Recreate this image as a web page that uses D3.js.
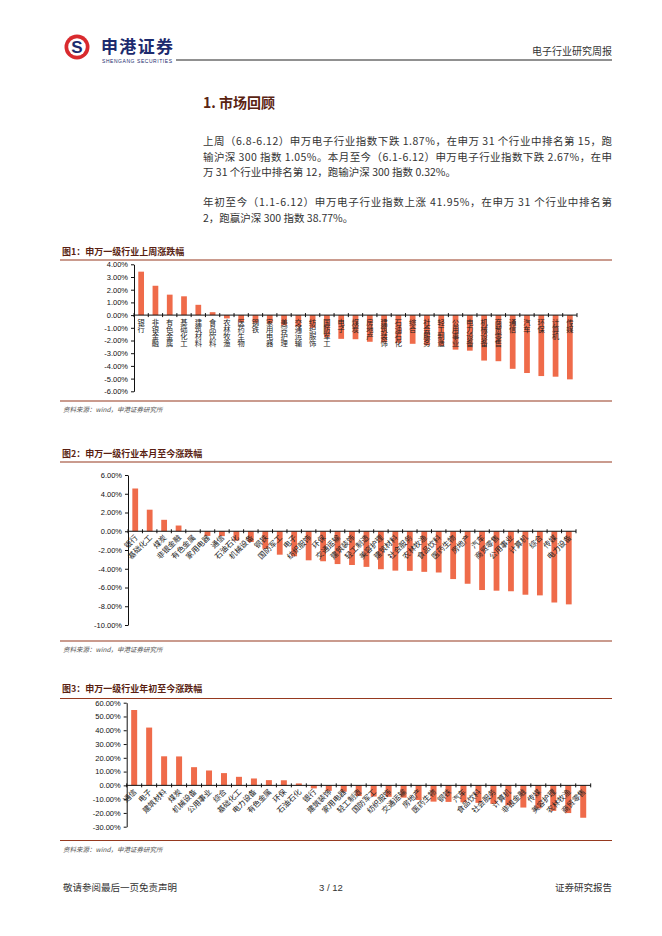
<!DOCTYPE html>
<html>
<head>
<meta charset="utf-8">
<script src="https://d3js.org/d3.v7.min.js"></script>
<style>
  body { margin: 0; background: #fff; }
  svg { display: block; }
</style>
</head>
<body>
<div id="page"></div>
<script>
// ---- data (percent change) ----
const weekNames = ["银行","非银金融","有色金属","基础化工","建筑材料","食品饮料","农林牧渔","医药生物","钢铁","家用电器",
  "美容护理","交通运输","纺织服饰","国防军工","电子","煤炭","房地产","建筑装饰","石油石化","综合",
  "社会服务","轻工制造","公用事业","电力设备","机械设备","商贸零售","通信","汽车","环保","计算机","传媒"];
const weekValues = [3.42,2.31,1.61,1.48,0.81,0.23,-0.26,-0.54,-0.60,-0.65,
  -0.80,-0.90,-1.00,-1.74,-1.87,-1.90,-2.10,-2.15,-2.18,-2.26,
  -2.38,-2.42,-2.72,-2.80,-3.58,-3.63,-4.23,-4.56,-4.80,-4.85,-5.06];
const weekTicks = [4,3,2,1,0,-1,-2,-3,-4,-5,-6];

const monthNames = ["银行","基础化工","煤炭","非银金融","有色金属","家用电器","通信","石油石化","机械设备","钢铁",
  "国防军工","电子","纺织服饰","环保","交通运输","建筑装饰","轻工制造","美容护理","建筑材料","社会服务",
  "农林牧渔","食品饮料","医药生物","房地产","汽车","商贸零售","公用事业","计算机","综合","传媒","电力设备"];
const monthValues = [4.56,2.30,1.22,0.61,0.03,-0.50,-0.52,-1.00,-1.15,-1.87,
  -2.50,-2.67,-3.10,-3.20,-3.50,-3.60,-3.80,-4.05,-4.20,-4.22,
  -4.33,-4.40,-5.10,-5.60,-6.27,-6.34,-6.40,-6.77,-6.84,-7.60,-7.80];
const monthTicks = [6,4,2,0,-2,-4,-6,-8,-10];

const ytdNames = ["通信","电子","建筑材料","煤炭","机械设备","公用事业","综合","基础化工","电力设备","有色金属",
  "环保","石油石化","银行","建筑装饰","家用电器","轻工制造","国防军工","纺织服饰","交通运输","房地产",
  "医药生物","钢铁","汽车","食品饮料","社会服务","计算机","非银金融","传媒","美容护理","农林牧渔","商贸零售"];
const ytdValues = [54.7,41.95,21.1,21.0,13.2,10.8,8.9,6.2,5.0,3.8,
  3.7,1.4,-2.2,-4.0,-4.6,-7.7,-8.1,-8.3,-8.9,-10.6,
  -11.8,-12.0,-12.3,-12.7,-13.4,-14.4,-16.1,-16.8,-18.5,-20.1,-23.5];
const ytdTicks = [60,50,40,30,20,10,0,-10,-20,-30];

const para1 = [
  "上周（6.8-6.12）申万电子行业指数下跌 1.87%，在申万 31 个行业中排名第 15，跑",
  "输沪深 300 指数 1.05%。本月至今（6.1-6.12）申万电子行业指数下跌 2.67%，在申",
  "万 31 个行业中排名第 12，跑输沪深 300 指数 0.32%。"
];
const para2 = [
  "年初至今（1.1-6.12）申万电子行业指数上涨 41.95%，在申万 31 个行业中排名第",
  "2，跑赢沪深 300 指数 38.77%。"
];

const W = 662, H = 936;
const CJK = "'Noto Sans CJK SC', sans-serif";
const LAT = "'Liberation Sans', Arial, sans-serif";
const barColor = "#ef6b4a";
const ruleColor = "#96391f";

const svg = d3.select("#page").append("svg")
  .attr("width", W).attr("height", H);
svg.append("rect").attr("width", W).attr("height", H).attr("fill", "#fff");

// ---- header ----
svg.append("circle").attr("cx", 77).attr("cy", 47).attr("r", 12.5).attr("fill", "#d92a2e");
svg.append("circle").attr("cx", 77).attr("cy", 47).attr("r", 8.8).attr("fill", "#fff");
svg.append("text").attr("x", 77).attr("y", 53).attr("text-anchor", "middle")
  .attr("font-family", LAT).attr("font-weight", "bold").attr("font-size", 17)
  .attr("fill", "#1d2b6e").text("S");
svg.append("text").attr("x", 101).attr("y", 52.5)
  .attr("font-family", CJK).attr("font-weight", "bold").attr("font-size", 17)
  .attr("fill", "#1d2b6e").attr("textLength", 72).text("申港证券");
svg.append("text").attr("x", 102).attr("y", 63)
  .attr("font-family", LAT).attr("font-size", 5)
  .attr("fill", "#1d2b6e").attr("textLength", 70).text("SHENGANG SECURITIES");
svg.append("line").attr("x1", 176).attr("x2", 612).attr("y1", 60).attr("y2", 60)
  .attr("stroke", "#222").attr("stroke-width", 1);
svg.append("text").attr("x", 612).attr("y", 55).attr("text-anchor", "end")
  .attr("font-family", CJK).attr("font-size", 10).attr("fill", "#333").text("电子行业研究周报");

// ---- section text ----
svg.append("text").attr("x", 203).attr("y", 108)
  .attr("font-family", CJK).attr("font-weight", "bold").attr("font-size", 14)
  .attr("fill", "#5a2412").text("1. 市场回顾");

function paragraph(lines, y0) {
  lines.forEach(function(t, i) {
    const el = svg.append("text").attr("x", 203).attr("y", y0 + i * 15.5)
      .attr("font-family", CJK).attr("font-size", 10.5).attr("fill", "#333").text(t);
    if (i < lines.length - 1) el.attr("textLength", 409).attr("lengthAdjust", "spacing");
  });
}
paragraph(para1, 145);
paragraph(para2, 206);

// ---- charts ----
function drawChart(cfg) {
  const g = svg.append("g");

  // title and frame rules
  g.append("text").attr("x", 62).attr("y", cfg.titleY)
    .attr("font-family", CJK).attr("font-weight", "bold").attr("font-size", 9)
    .attr("fill", "#5a1f12").text(cfg.title);
  g.append("line").attr("x1", 60).attr("x2", 612).attr("y1", cfg.ruleTop).attr("y2", cfg.ruleTop)
    .attr("stroke", ruleColor).attr("stroke-width", 1.2);
  g.append("line").attr("x1", 60).attr("x2", 612).attr("y1", cfg.ruleBottom).attr("y2", cfg.ruleBottom)
    .attr("stroke", ruleColor).attr("stroke-width", 1.2);
  g.append("text").attr("x", 63).attr("y", cfg.ruleBottom + 11)
    .attr("font-family", CJK).attr("font-style", "italic").attr("font-size", 6.5)
    .attr("fill", "#555").text("资料来源：wind，申港证券研究所");

  const x = d3.scaleBand().domain(cfg.names).range([cfg.x0, cfg.x1])
    .paddingInner(0.6).paddingOuter(0.3);
  const y = d3.scaleLinear().domain([d3.min(cfg.ticks), d3.max(cfg.ticks)])
    .range([cfg.yBottom, cfg.yTop]);

  const data = cfg.names.map(function(n, i) { return { name: n, value: cfg.values[i] }; });

  g.selectAll("rect.bar").data(data).enter().append("rect")
    .attr("class", "bar")
    .attr("x", function(d) { return x(d.name); })
    .attr("width", x.bandwidth())
    .attr("y", function(d) { return y(Math.max(0, d.value)); })
    .attr("height", function(d) { return Math.abs(y(d.value) - y(0)); })
    .attr("fill", barColor);

  // y axis
  g.append("g").attr("transform", "translate(" + cfg.x0 + ",0)")
    .call(d3.axisLeft(y).tickValues(cfg.ticks)
      .tickFormat(function(d) { return d.toFixed(2) + "%"; })
      .tickSize(3).tickSizeOuter(0).tickPadding(3))
    .call(function(a) {
      a.selectAll("text").attr("font-family", LAT).attr("font-size", 7.5).attr("fill", "#111");
      a.selectAll("line,path").attr("stroke", "#111");
    });

  // x axis line with ticks between categories
  const y0 = y(0);
  const step = x.step();
  g.append("line").attr("x1", cfg.x0).attr("x2", cfg.x1).attr("y1", y0).attr("y2", y0)
    .attr("stroke", "#111").attr("stroke-width", 1);
  g.selectAll("line.xt").data(d3.range(cfg.names.length + 1)).enter().append("line")
    .attr("class", "xt")
    .attr("x1", function(i) { return cfg.x0 + i * step; })
    .attr("x2", function(i) { return cfg.x0 + i * step; })
    .attr("y1", y0 - 2).attr("y2", y0 + 2)
    .attr("stroke", "#111");

  // category labels
  if (cfg.labelMode === "vertical") {
    g.selectAll("text.xl").data(data).enter().append("text")
      .attr("class", "xl")
      .attr("x", function(d) { return x(d.name) + x.bandwidth() / 2; })
      .attr("y", y0 + 3)
      .style("writing-mode", "vertical-rl")
      .style("text-orientation", "upright")
      .attr("font-family", CJK).attr("font-size", 7.3).attr("fill", "#222")
      .text(function(d) { return d.name; });
  } else {
    g.selectAll("text.xl").data(data).enter().append("text")
      .attr("class", "xl")
      .attr("transform", function(d) {
        const cx = x(d.name) + x.bandwidth() / 2;
        return "translate(" + (cx + 3) + "," + (y0 + 7) + ") rotate(-45)";
      })
      .attr("text-anchor", "end")
      .attr("font-family", CJK).attr("font-size", 7.6).attr("fill", "#222")
      .text(function(d) { return d.name; });
  }
}

drawChart({
  title: "图1：申万一级行业上周涨跌幅", titleY: 255, ruleTop: 260, ruleBottom: 401,
  names: weekNames, values: weekValues, ticks: weekTicks,
  x0: 134, x1: 577, yTop: 264.3, yBottom: 391.3, labelMode: "vertical"
});
drawChart({
  title: "图2：申万一级行业本月至今涨跌幅", titleY: 457, ruleTop: 462, ruleBottom: 641,
  names: monthNames, values: monthValues, ticks: monthTicks,
  x0: 128, x1: 576, yTop: 475, yBottom: 625, labelMode: "rotate"
});
drawChart({
  title: "图3：申万一级行业年初至今涨跌幅", titleY: 692, ruleTop: 698.5, ruleBottom: 840.5,
  names: ytdNames, values: ytdValues, ticks: ytdTicks,
  x0: 126.7, x1: 590.7, yTop: 702.7, yBottom: 826.7, labelMode: "rotate"
});

// ---- footer ----
svg.append("text").attr("x", 63).attr("y", 891)
  .attr("font-family", CJK).attr("font-size", 9.5).attr("fill", "#333").text("敬请参阅最后一页免责声明");
svg.append("text").attr("x", 331).attr("y", 891).attr("text-anchor", "middle")
  .attr("font-family", LAT).attr("font-size", 9.5).attr("fill", "#333").text("3 / 12");
svg.append("text").attr("x", 612).attr("y", 891).attr("text-anchor", "end")
  .attr("font-family", CJK).attr("font-size", 9.5).attr("fill", "#333").text("证券研究报告");
</script>
</body>
</html>
